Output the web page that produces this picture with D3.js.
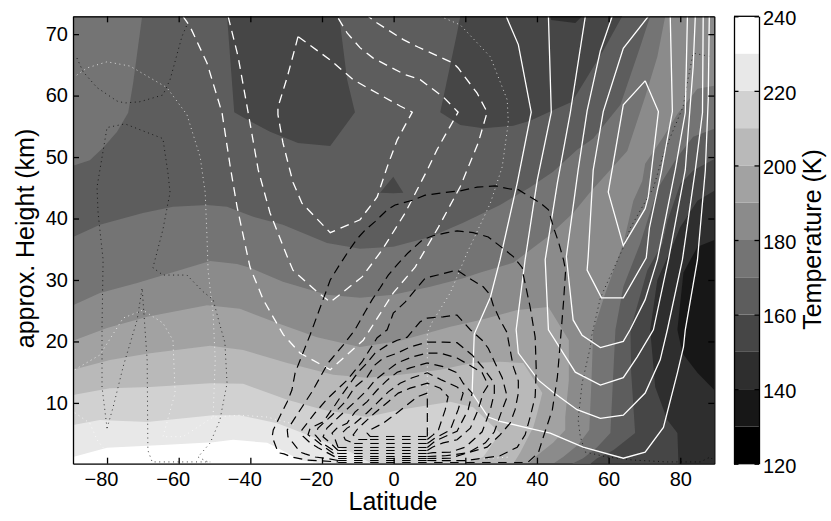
<!DOCTYPE html>
<html>
<head>
<meta charset="utf-8">
<style>
html, body { margin: 0; padding: 0; background: #fff; }
svg { display: block; }
text { font-family: "Liberation Sans", Arial, sans-serif; fill: #000; }
.axis path, .axis line { stroke: #000; stroke-width: 1.3; fill: none; }
.axis text { font-size: 20px; font-family: "Liberation Sans", Arial, sans-serif; }
</style>
<script src="https://cdn.jsdelivr.net/npm/d3@7"></script>
</head>
<body>
<svg width="831" height="521"></svg>
<script>
// colour levels (K), each band is 10 K wide
var tempLevels = [120, 130, 140, 150, 160, 170, 180, 190, 200, 210, 220, 230, 240];
var grayLevels = [0, 23, 46, 70, 93, 116, 139, 162, 185, 209, 232, 255];
var latTicks = [-80, -60, -40, -20, 0, 20, 40, 60, 80];
var heightTicks = [10, 20, 30, 40, 50, 60, 70];
var tempTicks = [120, 140, 160, 180, 200, 220, 240];

// isotherms, [latitude, km]
var warm170a = [[-89.5,72.9],[-89.5,48.6],[-84.8,49.5],[-81.1,51.5],[-77.2,54.1],[-74.1,57.2],[-72.7,62.1],[-70.2,72.9]];
var warm170 = [[-89.5,37],[-82,39],[-70,40.9],[-61.6,41.9],[-52.1,42.2],[-46.5,41.9],[-39.2,40.3],[-30.9,39],[-18.6,36],[-9.4,35.1],[-0.1,35.4],[10.2,37],[19.4,39.3],[29.7,42.2],[38.1,45.1],[44.5,47.6],[51.2,51.2],[55.7,53],[63.3,58.5],[68.8,67.9],[71.6,72.9],[89.5,72.9],[89.5,54.6],[83.6,53.3],[79.2,50],[73.9,45.1],[70.8,39.6],[68.8,35.9],[64.1,28.9],[61.9,21.9],[60.5,5.1],[56.8,2.8],[52.9,1],[49.8,0.11],[-89.5,0.11]];
var warm180 = [[-89.5,25.9],[-82,27.9],[-71.6,29.5],[-51.2,33.1],[-43.7,32.6],[-40.1,32],[-30.9,29.7],[-18.6,27.6],[-9.4,27.1],[-0.1,27.6],[10.2,28.9],[19.4,30.3],[24.2,31.2],[33.4,32.8],[42.9,37],[50.1,40.9],[54.9,44.3],[65.2,51],[70.2,59.8],[73.6,66.3],[75.8,72.9],[89.5,72.9],[89.5,61.6],[84.8,61.1],[79.2,57],[75.3,53.3],[70.2,48.9],[69.4,46.1],[66.9,42.9],[64.1,35.9],[59.1,27.9],[55.7,21.7],[55.2,13.2],[54.6,5.6],[51.5,3.2],[47.3,1.2],[44.5,0.11],[-89.5,0.11]];
var warm190 = [[-89.5,20.1],[-80,22.2],[-68.8,24],[-52.1,25.9],[-42.9,25.3],[-32.5,23],[-21.4,20.7],[-9.4,19.1],[1.8,20.1],[15.8,22.4],[24.2,23.5],[34.5,25.1],[43.2,25.6],[48.9,20.2],[48.9,13.7],[47.9,7.7],[47.9,5.6],[44.5,3.5],[40.1,1.5],[37.6,0.11],[-89.5,0.11]];
var warm200 = [[-89.5,15.4],[-79.2,17],[-68,18.1],[-51.2,19.3],[-42,18.6],[-29.7,16.5],[-16.9,14.6],[-7.4,14.1],[1.8,14.6],[13,15.4],[21.9,16.5],[29.7,16.7],[36.2,16.5],[41.5,11.6],[40.1,8.4],[39,6.1],[35.3,1.9],[33.4,0.11],[-89.5,0.11]];
var warm210 = [[-89.5,11.3],[-79.2,12.4],[-68,12.6],[-51.2,13.2],[-42,13.1],[-29.7,10.5],[-19.7,8.9],[-7.4,7.7],[1.8,8.9],[15.8,10.2],[22.2,9.3],[29.7,5.1],[25,1.2],[19.4,0.11],[-89.5,0.11]];
var warm220 = [[-89.5,6.4],[-82,7.2],[-68.8,6.9],[-50.4,8],[-42.9,8],[-32.5,6.7],[-20.5,4],[-12.1,2],[-6,0.11],[-89.5,0.11]];
var warm230 = [[-89.5,1.2],[-80,2.7],[-63.2,3.2],[-50.4,3.6],[-44.8,4],[-35.3,3.5],[-32.5,2.7],[-26.1,0.7],[-20,0.11],[-89.5,0.11]];
var cold160a = [[-46.5,72.9],[-44.5,57.3],[-40.6,56],[-34.5,54.1],[-26.7,52.3],[-17.7,51.8],[-15.8,53.3],[-10.8,57.3],[-13,62.6],[-15.2,72.9]];
var cold160b = [[-3.8,44.2],[-0.1,46.8],[2.7,44.2],[-0.1,44.1]];
var cold160c = [[18.6,72.9],[17.7,70.2],[13,57.3],[18.6,55.2],[25,54.7],[33.4,55.1],[38.1,55.9],[43.7,57.4],[49.8,59],[54,63],[58.5,67.3],[63.8,72.9]];
var cold160d = [[89.5,49.7],[83.6,47.8],[80,45.6],[76.4,39.6],[75,35.9],[70.8,31.6],[66.1,21.9],[66.3,14.9],[67.4,5.1],[61.3,2.3],[56.8,1],[54.9,0.11],[89.5,0.11]];
var cold150a = [[43.7,72.9],[44,72.3],[50.7,71.8],[52.6,72.9]];
var cold150b = [[89.5,44.5],[84.8,42.9],[80,38.6],[78.1,35.9],[73.6,30],[71.6,21.9],[73,12.6],[76.4,7.2],[79.2,5.1],[79.5,0.11],[89.5,0.11]];
var cold140 = [[89.5,36.5],[84.8,35.4],[80.9,31.2],[79.2,21.9],[80.6,18.1],[84.8,14.9],[89.5,12.1]];

// white solid wind contours
var whiteSolid = [
  [[31.4,72.9],[34.8,68.3],[38.4,57.3],[34.5,45.8],[29.7,33.3],[27,27.2],[22.5,21.2],[21.9,11.6],[26.4,7.7],[29.7,7],[37.6,5.9],[43.7,5.1],[52.9,2.8],[64.1,1],[70.2,2],[75.3,6],[79.2,14.9],[80.9,19.1],[81.4,21.9],[84.8,33.3],[87,47.9],[87.8,59.3],[88.1,72.9]],
  [[43.2,72.9],[44,57.3],[40.1,46.3],[36.7,33.3],[34.2,21.9],[34.8,18.1],[40.4,13.7],[44.8,11.6],[51.2,8.9],[57.7,7.5],[64.1,8],[70.2,11.6],[74.4,17],[76.4,21.9],[80.6,33.3],[84.2,47.9],[86.2,57.2],[86.4,72.9]],
  [[53.5,72.9],[49.3,57.2],[45.7,45.8],[42.3,33.3],[43.2,21.9],[50.7,15],[57.7,12.9],[64.1,14.1],[68,17.5],[72.5,21.9],[76.7,33.3],[81.4,47.9],[83.6,64.7],[84.2,72.9]],
  [[61,72.9],[57.7,67.3],[54,57.5],[51.5,47.9],[48.2,33.8],[50.1,23.5],[52.6,21],[57.7,19],[64.1,20],[66,21.9],[70.2,26.8],[73.6,33.3],[78.6,47.9],[81.4,57.2],[82,72.9]],
  [[71.1,72.9],[64.1,67.7],[58.5,57.4],[55.7,47.9],[54.3,33.8],[54,31.6],[58,27.1],[64.1,27.1],[70.5,33.6],[71.4,38.5],[74.7,47.6],[77.8,57.4],[77.2,72.9]],
  [[70.2,62.4],[64.1,58.5],[59.9,44.3],[64.1,35.6],[70.2,41.6],[71.1,43.6],[73.9,57.4],[70.2,62.4]]
];

// white dashed wind contours
var whiteDashed = [
  [[-58.8,72.9],[-56.8,71.2],[-52.1,65.3],[-47.9,57.2],[-45.6,48.4],[-43.7,41.9],[-40.1,32.1],[-36.4,26.8],[-30.8,21.1],[-26.1,18.1],[-17.7,15.4],[-8.5,20.2],[-5.2,23.2],[-0.1,27.9],[6,32.1],[12.5,38.6],[18.6,45.2],[23.6,52.3],[26.1,57.3],[23.3,60.4],[18,64.5],[16.6,65.3],[6.8,67.9],[2.7,69.1],[-4.6,71.8],[-7.1,72.9]],
  [[-46.2,72.9],[-43.4,66.3],[-40.6,57.2],[-37.8,47.9],[-34.5,40.9],[-29.7,33.8],[-28.1,31.6],[-21.4,28.1],[-17.7,26.4],[-8.8,30.5],[-3.2,34.9],[3.2,40.9],[9.4,47.9],[12.1,51.2],[18,57.3],[13.8,59.8],[7.4,62.6],[3.2,63.4],[-5.7,66.1],[-9.4,67.8],[-13,70.2],[-15.8,72.9]],
  [[-26.7,69.6],[-27.5,67.8],[-29.7,63],[-32.3,58.1],[-32.3,56.9],[-30.9,52.3],[-28.1,45.9],[-25.6,42.5],[-17.7,37.7],[-9.4,39.8],[-4.6,43.5],[-1.8,48.4],[1,52.8],[5.2,57.3],[1.8,58.3],[-7.4,61.3],[-11.3,62.6],[-17.7,65.8],[-26.7,69.6]]
];

// black dashed wind contours, outer to inner
var blackDashed = [
  [[37.6,0.4],[40.4,1.9],[41.8,4.5],[44.3,8.9],[45.7,14.2],[46.5,19.8],[47.4,26.3],[48,31.6],[47.4,33.3],[46,36.2],[44.6,38.6],[43.2,41.4],[41,42.5],[37.6,43.7],[34.8,44.7],[32.5,44.8],[28.4,45.3],[23.3,45.1],[18.6,44.5],[13.8,44.2],[8.8,43.8],[5.4,43],[0.4,42.2],[-1.8,41.4],[-5.2,39.5],[-8,38.1],[-10.2,36.7],[-12.7,34.6],[-15.5,32.1],[-17.7,30],[-19.7,26.8],[-23.3,21.1],[-27.5,14.9],[-28.4,12.1],[-29.7,10.2],[-31.6,8],[-33.6,5.6],[-33.9,4.5],[-32.8,2.8],[-32.2,1.9],[-30.6,1.7],[-28.4,1.2],[-24.2,0.7],[-15.5,0.4]],
  [[9.4,0.63],[20,0.6],[29.7,1.4],[34.5,2.8],[36.7,4.8],[38.1,7.7],[39.5,11],[39.8,15.4],[39.5,20.7],[38.1,25.6],[36.2,30.8],[35.9,32],[33.4,33.8],[30.6,35.1],[26.4,37],[22.2,37.7],[17.7,38],[14.9,37.7],[11,37.2],[8,36.5],[4,34.4],[1,32.5],[-1.5,30.8],[-3.8,28.7],[-6,26.8],[-8,24.8],[-10.8,21.9],[-14.1,19.4],[-18.3,16.5],[-20.5,14.2],[-22.8,11.8],[-25.6,9.3],[-27.5,7.6],[-29.7,5.6],[-29.5,4.5],[-28.1,3.5],[-26.1,2],[-24.7,1.7],[-21.9,1.2],[-19.1,1],[-15.5,0.63]],
  [[9.4,0.96],[15.8,1],[20.8,1.9],[26.1,2.8],[29.7,4.8],[32.5,6.7],[33.9,8.9],[34.8,11.6],[34.8,13.6],[33.4,15.9],[32,20.2],[31.7,21.4],[29.7,23.5],[27.8,25.9],[26.9,27.6],[25,28.9],[21.9,30],[17.7,31.6],[14.9,31.2],[8.8,30.3],[6.8,28.9],[3.2,26.4],[-0.1,24.6],[-1.8,21.9],[-4.6,20.6],[-8.8,16.7],[-13,13.7],[-18.3,10.8],[-21.9,8.4],[-25.6,5.6],[-25.3,4.6],[-23.3,3.5],[-21.1,2.7],[-15.5,0.96]],
  [[9.4,1.28],[14.4,1.4],[20.8,1.9],[25.6,3.5],[28.1,5.3],[30.3,8.9],[31.7,11],[30.3,14.1],[28.3,16.5],[26.4,18.9],[24.7,20.2],[21.4,21.9],[17.7,24.3],[13.8,24],[9.4,23.8],[7.4,23.2],[3.8,20.7],[1,20.2],[-1.8,19.4],[-5.2,18.1],[-7.4,16.5],[-9.9,15],[-14.1,11.6],[-16.3,9.7],[-19.7,6.9],[-23.3,5.9],[-23.9,4.8],[-21.9,4],[-19.1,2.7],[-15.5,1.28]],
  [[9.4,1.77],[11,1.9],[15.8,2],[20,2.8],[24.7,5.3],[27,8.9],[28.1,11.6],[28.1,13.2],[25,15.7],[21.9,17.8],[17.7,19.8],[13.8,19.9],[9.4,19.9],[4.6,19.1],[1,18.1],[-2.9,17.3],[-5.2,16.2],[-7.4,14.2],[-10.8,12.6],[-13.5,10.2],[-17.2,8],[-21.1,5.9],[-21.9,4.8],[-20,3.5],[-15.5,1.77]],
  [[9.4,2.26],[10.8,2.8],[13.8,3.5],[17.7,4],[21.4,5.9],[23.6,8.9],[25,11.6],[26.4,12.9],[24.7,14.9],[21.9,15.9],[17.7,17.3],[13,18.1],[9.4,18.1],[5.2,17.5],[1,16.5],[-2.4,15],[-5.2,13.7],[-7.4,12.1],[-10.2,10.5],[-14.1,8.4],[-18.6,5.9],[-19.7,4.5],[-17.7,3.5],[-15.5,2.26]],
  [[9.4,2.75],[11.6,3.8],[17.7,5.4],[20.8,8.9],[21.9,11.6],[19.4,13.2],[17.7,14.9],[13.8,15.9],[9.4,16.5],[4.6,15.7],[1,15],[-1.8,13.7],[-4.6,12.1],[-7.4,10.2],[-10.8,8.5],[-13,6.7],[-15.8,5.9],[-17.2,5.1],[-16.3,4],[-15.5,2.75]],
  [[9.4,3.4],[11.6,4.3],[15.8,5.6],[18,8.9],[19.4,11.6],[17.7,12.6],[13.5,13.7],[9.4,14.9],[5.2,14.1],[1.8,13.2],[-1.5,11.8],[-4.6,10],[-7.4,8.4],[-10.8,6.7],[-13,5.9],[-14.4,5.1],[-13.5,4],[-11,3.4]],
  [[9.4,4.05],[11,4.8],[12.5,5.6],[14.4,8.9],[15.2,11],[13,12.4],[9.4,13.2],[4.6,12.4],[1.3,11.6],[-1.5,10.2],[-5.2,8.4],[-9.9,5.9],[-11.3,4.8],[-9.9,4.05],[-6.6,4.05]],
  [[9.4,4.54],[9.4,11.6],[6.6,11],[3.8,9.7],[1,8.4],[-2.9,6.7],[-6.6,5.6],[-7.4,5.1],[-6.6,4.54]]
];
// low level runs of the same contours: km at each contour and the latitude each run starts from
var rowHeights = [0.31, 0.63, 0.96, 1.28, 1.77, 2.26, 2.75, 3.4, 4.05, 4.54];
var rowStarts = [-15.5, -15.5, -15.5, -15.5, -15.5, -15.5, -15.5, -11, -6.6, -6.6];
var rowEnds = [37.6, 9.4, 9.4, 9.4, 9.4, 9.4, 9.4, 9.4, 9.4, 9.4];

// dotted contours
var blackDotted = [
  [[-88.4,66.1],[-86.7,63.9],[-82.8,61.3],[-77.2,59.1],[-75,58.8],[-70.8,59],[-64.4,60.1],[-62.4,62.6],[-59.1,69.6],[-57.7,71.5]],
  [[-80,5.9],[-81.4,12.6],[-81.4,22.4],[-81.1,33.3],[-82.5,40.9],[-82.8,45.1],[-80,54.8],[-75,55.4],[-64.4,53],[-63,47.4],[-62.4,44.2],[-63,42.5],[-64.4,38.2],[-66.6,33.3],[-67.2,32],[-64.4,30.8],[-57.7,30.8],[-53.2,28.1],[-50.4,26.8],[-48.5,22.7],[-47.1,19.8],[-46.5,13.2],[-48.5,7.2],[-51.2,3.5],[-54.6,1.2],[-51.2,0.2]],
  [[-80,5.9],[-78.3,9.3],[-75.5,15.9],[-71.6,23.5],[-70.2,28.7],[-68.8,17],[-68.6,2.3],[-67.4,0.4],[-51.2,0.4]],
  [[88.1,66.4],[83.6,66.9],[82.2,62.8],[80.8,58.2],[77.2,53.2],[75,49.9],[72.5,45],[69.7,42.2],[66,38.4],[64.6,35.9],[57.7,27.1],[55.2,20.7],[54.9,19.1],[52.6,13.2],[51.5,7.2],[52.1,4.5],[53.5,2],[59.6,1.2],[66.9,0.7],[76.4,0.4],[85.6,0.4],[88.4,1.2],[89.2,0.7]]
];
var whiteDotted = [
  [[-89.5,62.9],[-85.6,64.5],[-80,65.5],[-73.6,64.8],[-63.3,61.3],[-57.7,56.9],[-54,50],[-52.6,44.2],[-52.1,37],[-51.8,31.6],[-51.2,28.4],[-50.4,24.6],[-49.8,17],[-50.4,7.7]],
  [[-89,15.4],[-82,17.8],[-75.5,23.8],[-70,25.1],[-64.4,23],[-61.6,20.2],[-61,11.6],[-64.4,4.5],[-58.8,4.5],[-50.4,7.7],[-42.9,8],[-35.3,7.7],[-27,6.4]],
  [[-89,8.4],[-84.8,6.7],[-82.8,4],[-80,1.9]],
  [[13,72.9],[18.6,71.5],[27,66.3],[31.7,59.3],[32,55.6],[30.3,48.4],[27,42.5],[20.5,34.4],[15.8,27.9],[10.8,23.2],[9.4,21.4],[9.4,11.6],[9.6,5.6],[10.2,1.5]],
  [[-40,0.25],[-20,0.25]],
  [[20,0.7],[32.5,1.2]]
];

var svg = d3.select("svg");

var x = d3.scaleLinear().domain([-89.5, 89.5]).range([73, 714.3]);
var y = d3.scaleLinear().domain([0.11, 72.9]).range([463.7, 16.3]);
var cbarY = d3.scaleLinear().domain([120, 240]).range([463.7, 16.3]);

var color = d3.scaleThreshold()
  .domain(tempLevels.slice(1, -1))
  .range(grayLevels.map(function (g) { return d3.rgb(g, g, g).formatHex(); }));

var line = d3.line().x(function (d) { return x(d[0]); }).y(function (d) { return y(d[1]); });

svg.append("clipPath").attr("id", "plot-clip").append("rect")
  .attr("x", x.range()[0]).attr("y", y.range()[1])
  .attr("width", x.range()[1] - x.range()[0]).attr("height", y.range()[0] - y.range()[1]);

var plot = svg.append("g").attr("clip-path", "url(#plot-clip)");

// background band is 160-170 K, the rest is painted on top
plot.append("rect")
  .attr("x", x.range()[0]).attr("y", y.range()[1])
  .attr("width", x.range()[1] - x.range()[0]).attr("height", y.range()[0] - y.range()[1])
  .attr("fill", color(165));

var bands = [
  [175, warm170a], [175, warm170], [185, warm180], [195, warm190], [205, warm200],
  [215, warm210], [225, warm220], [235, warm230],
  [155, cold160a], [155, cold160b], [155, cold160c], [155, cold160d],
  [145, cold150a], [145, cold150b], [135, cold140]
];

plot.selectAll("path.band").data(bands).enter().append("path")
  .attr("class", "band")
  .attr("d", function (d) { return line(d[1]) + "Z"; })
  .attr("fill", function (d) { return color(d[0]); });

function drawLines(data, stroke, dash, width, opacity) {
  plot.append("g").selectAll("path").data(data).enter().append("path")
    .attr("d", line)
    .attr("fill", "none")
    .attr("stroke", stroke)
    .attr("stroke-width", width)
    .attr("stroke-opacity", opacity)
    .attr("stroke-dasharray", dash);
}

drawLines(blackDotted, "#000", "1 3.6", 1, 0.75);
drawLines(whiteDotted, "#fff", "1 3.6", 1, 0.75);
drawLines(whiteSolid, "#fff", null, 1.3, 1);
drawLines(whiteDashed, "#fff", "9 6", 1.3, 1);
drawLines(blackDashed, "#000", "9 5.5", 1.2, 1);

var rows = rowHeights.map(function (h, i) { return [[rowStarts[i], h], [rowEnds[i], h]]; });
drawLines(rows, "#000", "8.5 7.5", 1, 1);

// axes, ticks point inwards on all four sides
function frameAxis(gen, tx, ty) {
  return svg.append("g").attr("class", "axis")
    .attr("transform", "translate(" + tx + "," + ty + ")")
    .call(gen);
}
var bottom = d3.axisBottom(x).tickValues(latTicks).tickSizeInner(-6).tickSizeOuter(0).tickPadding(8);
var left = d3.axisLeft(y).tickValues(heightTicks).tickSizeInner(-6).tickSizeOuter(0).tickPadding(5);
var bottomAxis = frameAxis(bottom, 0, y.range()[0]);
// the digits sit on the tick, the minus hangs out to the left
bottomAxis.selectAll("text").attr("x", function (d) { return d < 0 ? -6 : 0; });
frameAxis(left, x.range()[0], 0);
frameAxis(d3.axisTop(x).tickValues(latTicks).tickSizeInner(-6).tickSizeOuter(0).tickFormat(""), 0, y.range()[1]);
frameAxis(d3.axisRight(y).tickValues(heightTicks).tickSizeInner(-6).tickSizeOuter(0).tickFormat(""), x.range()[1], 0);

// colour bar
var cbarLeft = 734, cbarRight = 759;
var cbarBands = tempLevels.slice(0, -1);
svg.append("g").selectAll("rect").data(cbarBands).enter().append("rect")
  .attr("x", cbarLeft)
  .attr("y", function (d) { return cbarY(d + 10); })
  .attr("width", cbarRight - cbarLeft)
  .attr("height", function (d) { return cbarY(d) - cbarY(d + 10); })
  .attr("fill", function (d) { return color(d + 5); });

var cbarAxis = frameAxis(d3.axisRight(cbarY).tickValues(tempTicks).tickSizeInner(-4.5).tickSizeOuter(0).tickPadding(4), cbarRight, 0);
cbarAxis.selectAll("text").attr("dy", ".42em");
frameAxis(d3.axisLeft(cbarY).tickValues(tempTicks).tickSizeInner(-4.5).tickSizeOuter(0).tickFormat(""), cbarLeft, 0);
svg.append("line").attr("x1", cbarLeft).attr("x2", cbarRight).attr("y1", 16.3).attr("y2", 16.3).attr("stroke", "#000").attr("stroke-width", 1.3);
svg.append("line").attr("x1", cbarLeft).attr("x2", cbarRight).attr("y1", 463.7).attr("y2", 463.7).attr("stroke", "#000").attr("stroke-width", 1.3);

// titles
svg.append("text").attr("x", 393).attr("y", 510).attr("text-anchor", "middle").attr("font-size", 25).text("Latitude");
svg.append("text").attr("transform", "translate(34,238.5) rotate(-90)").attr("text-anchor", "middle").attr("font-size", 25).text("approx. Height (km)");
svg.append("text").attr("transform", "translate(821,239.5) rotate(-90)").attr("text-anchor", "middle").attr("font-size", 25).text("Temperature (K)");
</script>
</body>
</html>
